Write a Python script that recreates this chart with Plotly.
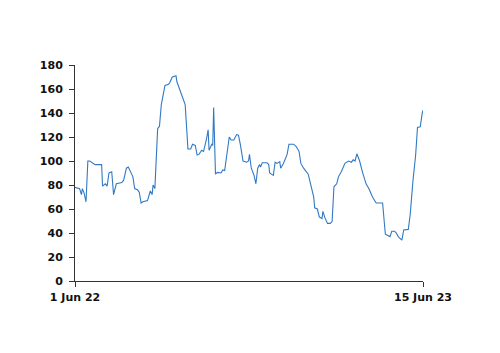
import pandas as pd
import plotly.graph_objects as go

start_date = "2022-06-01"
day_offsets = [0, 5, 7, 8, 10, 12, 14, 16, 22, 29, 30, 33, 35, 37, 40, 42, 45, 51, 53, 56,
               58, 61, 63, 65, 68, 70, 72, 74, 79, 82, 84, 85, 87, 90, 92, 94, 96, 98, 102, 103,
               106, 110, 111, 114, 117, 120, 123, 126, 128, 131, 133, 135, 138, 140, 143, 145, 146, 149, 150, 151,
               153, 155, 159, 161, 163, 166, 168, 170, 173, 176, 178, 180, 183, 187, 189, 190, 192, 195, 197, 199,
               201, 202, 204, 209, 211, 212, 216, 218, 220, 223, 224, 227, 231, 233, 238, 241, 244, 246, 249, 254,
               257, 260, 261, 264, 266, 269, 270, 272, 275, 278, 280, 282, 285, 287, 290, 294, 298, 301, 303, 305,
               307, 310, 313, 317, 320, 324, 328, 332, 335, 338, 341, 343, 345, 348, 350, 352, 356, 358, 363, 365,
               368, 370, 371, 373, 376, 378, 379]
values = [78, 77, 72, 77, 73, 66, 100, 100, 97, 97, 79, 81, 79, 90, 91, 72, 81, 82, 84, 94,
          95, 90, 87, 77, 76, 74, 65, 66, 67, 75, 72, 80, 77, 127, 129, 147, 156, 163, 164, 165,
          170, 171, 166, 159, 154, 147, 110, 110, 114, 113, 105, 105.5, 109, 108, 117.5, 126, 109, 114, 113, 144.5,
          89, 90.5, 90, 92.5, 92, 110.5, 120, 117.5, 117.5, 122, 121.5, 114, 100, 99, 100, 105.5, 94, 88, 81, 94,
          97, 95, 98.5, 98.5, 97, 90, 88, 99, 98, 99.5, 94, 98, 105.5, 114, 114, 112, 108, 98, 94, 89,
          80, 70, 61, 60, 53.5, 52, 58, 53, 48, 48, 49.5, 78.5, 81, 87, 91, 98, 100, 99, 101, 100,
          106, 100, 91, 81, 77, 70, 65, 65, 65, 39, 38, 37, 41.5, 41.5, 40, 37, 34, 42.5, 43, 55,
          83, 98, 105, 128, 128.5, 139, 142.5]

x_tick_dates = ["2022-06-01", "2023-06-15"]
x_tick_labels = ["1 Jun 22", "15 Jun 23"]
y_ticks = [0, 20, 40, 60, 80, 100, 120, 140, 160, 180]

dates = pd.Timestamp(start_date) + pd.to_timedelta(day_offsets, unit="D")

fig = go.Figure()
fig.add_trace(go.Scatter(x=dates, y=values, mode="lines",
                         line=dict(color="#3179C4", width=1.1), hoverinfo="skip"))

tick_font = dict(family="DejaVu Sans", size=11, color="#111111", weight="bold")
fig.update_layout(
    width=500, height=353,
    margin=dict(l=75, r=77, t=65, b=72),
    paper_bgcolor="white", plot_bgcolor="white",
    showlegend=False,
    xaxis=dict(range=[x_tick_dates[0], x_tick_dates[1]], tickmode="array",
               tickvals=x_tick_dates, ticktext=x_tick_labels,
               showline=True, linecolor="#333333", linewidth=1,
               ticks="outside", ticklen=5, tickcolor="#333333",
               ticklabelstandoff=1,
               showgrid=False, zeroline=False, tickfont=tick_font),
    yaxis=dict(range=[0, 180], tickmode="array", tickvals=y_ticks,
               showline=True, linecolor="#333333", linewidth=1,
               ticks="outside", ticklen=5, tickcolor="#333333",
               ticklabelstandoff=4,
               showgrid=False, zeroline=False, tickfont=tick_font),
)
fig.write_html("out.html")
